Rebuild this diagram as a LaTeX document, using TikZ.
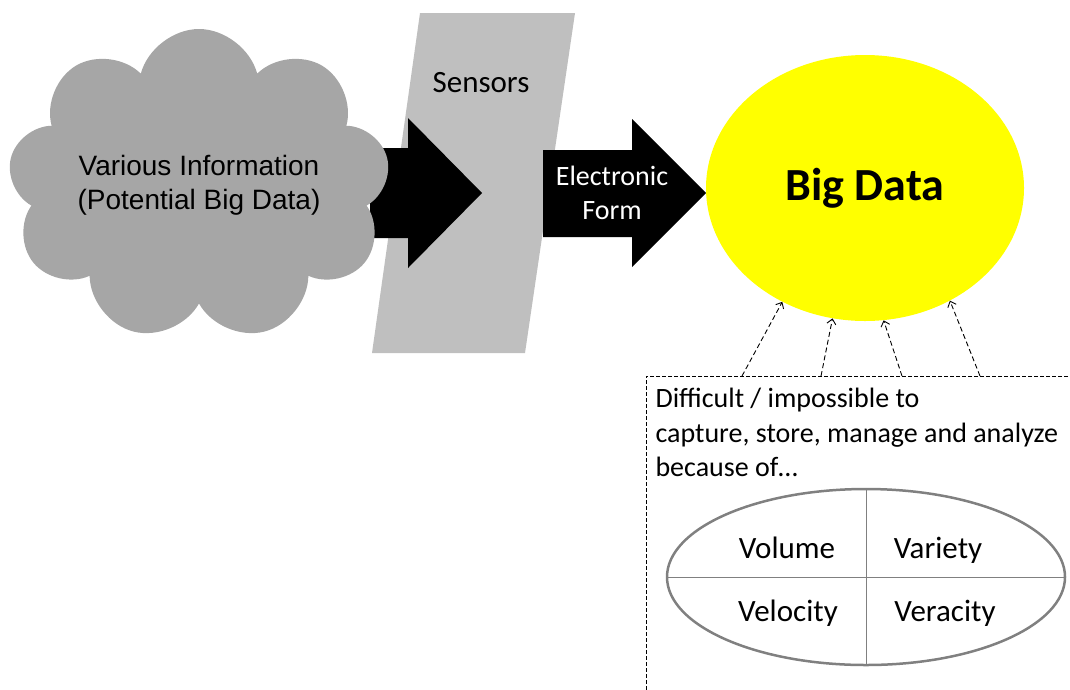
\documentclass[tikz,border=0pt]{standalone}
\usepackage{fontspec}
\setmainfont{Carlito}
\newfontfamily\arialfont{Liberation Sans}
\usetikzlibrary{shapes.symbols,shapes.geometric,arrows.meta}
\definecolor{cloudgray}{HTML}{A6A6A6}
\definecolor{sensorgray}{HTML}{BFBFBF}
\definecolor{ringgray}{HTML}{808080}
\definecolor{datayellow}{RGB}{255,255,0}
\tikzset{>={Straight Barb[length=5pt,width=9pt]},
    vlabel/.style={font=\fontsize{31}{36}\selectfont},
    cause/.style={black, line width=0.9pt, dash pattern=on 5pt off 3pt, ->}}

\begin{document}
\begin{tikzpicture}[x=1pt, y=-1pt, line join=round]
    \useasboundingbox (0,0) rectangle (1070,689);
    \clip (0,0) rectangle (1070,689);
    \fill[sensorgray] (420,13) -- (575,13) -- (525,353) -- (372,353) -- cycle;
    \node[font=\fontsize{31}{36}\selectfont] (sensors) at (481,83) {Sensors};
    \fill[black] (370,148) -- (408,148) -- (408,118) -- (482,193) -- (408,268) -- (408,238) -- (370,238) -- cycle;
    \node[cloud, cloud puffs=9, cloud ignores aspect, fill=cloudgray, minimum width=382, minimum height=312, align=center, font=\arialfont\fontsize{28}{34}\selectfont] (info) at (199,185) {Various Information\\(Potential Big Data)};

    \fill[black] (543,150) -- (632,150) -- (632,119) -- (706,193) -- (632,267) -- (632,237) -- (543,237) -- cycle;
    \node[white, align=center, font=\fontsize{28}{34}\selectfont] (form) at (612,193) {Electronic\\Form};
    \node[ellipse, fill=datayellow, minimum width=318, minimum height=266, inner sep=0, font=\fontsize{46}{52}\selectfont\bfseries] (bigdata) at (865,188) {Big Data};

    \draw[black, line width=0.8pt, dash pattern=on 4pt off 2pt] (1080,376) -- (646,376) -- (646,700);
    \coordinate (c1) at (742,376);
    \coordinate (c2) at (821,376);
    \coordinate (c3) at (902,376);
    \coordinate (c4) at (980,376);
    \draw[cause] (c1) -- (bigdata.234);
    \draw[cause] (c2) -- (bigdata.256);
    \draw[cause] (c3) -- (bigdata.278);
    \draw[cause] (c4) -- (bigdata.307);
    \node[anchor=north west, align=left, font=\fontsize{28}{34.5}\selectfont] (reason) at (652,385) {Difficult / impossible to\\capture, store, manage and analyze\\because of\ldots};

    \node[ellipse, draw=ringgray, line width=2.5pt, minimum width=398, minimum height=176, inner sep=0] (fourv) at (866,577) {};
    \draw[ringgray, line width=1pt] (fourv.north) -- (fourv.south) (fourv.west) -- (fourv.east);
    \node[vlabel] (volume) at (787,548) {Volume};
    \node[vlabel] (variety) at (938,550) {Variety};
    \node[vlabel] (velocity) at (788,613) {Velocity};
    \node[vlabel] (veracity) at (945,613) {Veracity};
\end{tikzpicture}
\end{document}
